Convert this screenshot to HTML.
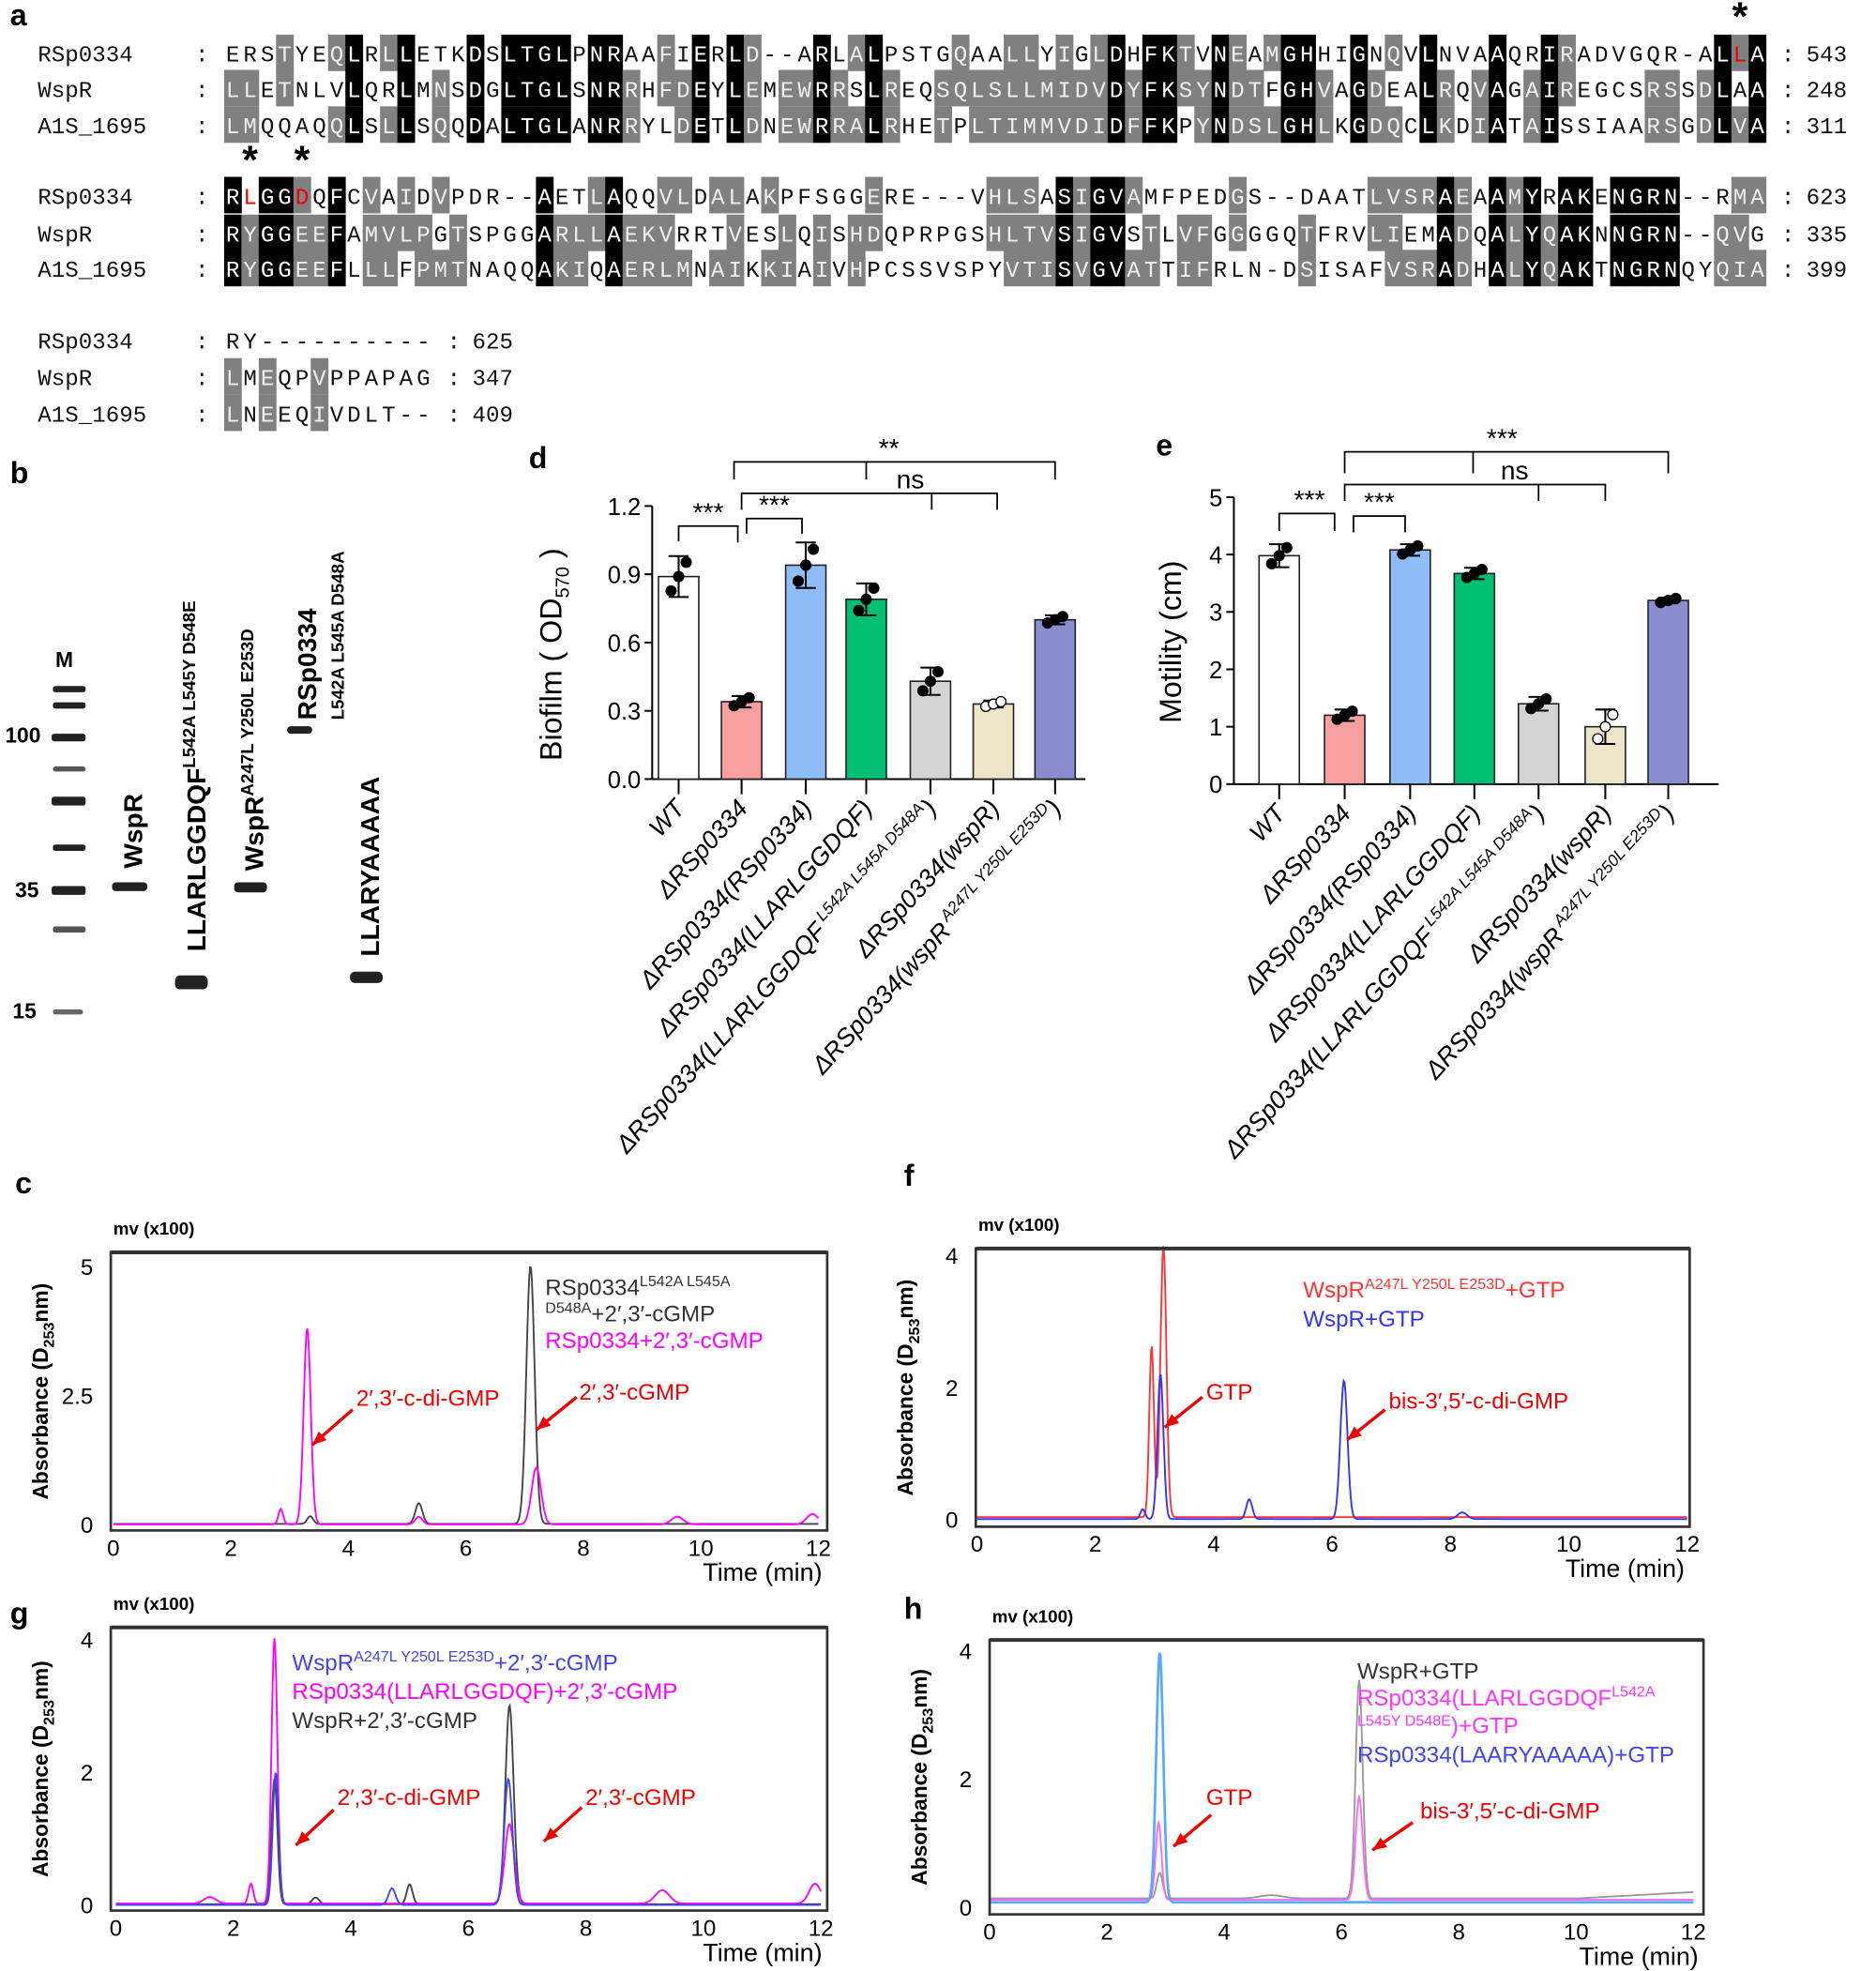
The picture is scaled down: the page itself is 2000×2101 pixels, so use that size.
<!DOCTYPE html>
<html><head><meta charset="utf-8">
<style>
html,body{margin:0;padding:0;background:#fff;}
svg{display:block;}
.lbl{font-family:"Liberation Sans",sans-serif;font-weight:bold;font-size:24px;}
.mono{font-family:"Liberation Mono",monospace;font-size:18px;}
.sans{font-family:"Liberation Sans",sans-serif;}
</style></head><body>
<svg id="s" xmlns="http://www.w3.org/2000/svg" width="2000" height="2101" viewBox="0 0 1490 1566" preserveAspectRatio="none">
<rect width="1490" height="1566" fill="#fff"/>
<g id="aln"></g>
<text class="lbl" x="8" y="20">a</text>
<text class="lbl" x="8" y="384">b</text>
<text class="lbl" x="420" y="372">d</text>
<text class="lbl" x="918" y="362">e</text>
<text class="lbl" x="12" y="948">c</text>
<text class="lbl" x="718" y="942">f</text>
<text class="lbl" x="8" y="1290">g</text>
<text class="lbl" x="718" y="1286">h</text>

<g id="gel">
<text class="sans" x="44" y="530" font-size="17" font-weight="bold">M</text>
<text class="sans" x="4" y="590" font-size="17" font-weight="bold">100</text>
<text class="sans" x="12" y="713" font-size="17" font-weight="bold">35</text>
<text class="sans" x="10" y="809" font-size="17" font-weight="bold">15</text>
<g fill="#222">
<rect x="42" y="545" width="26" height="5" rx="2"/>
<rect x="42" y="558" width="26" height="5" rx="2"/>
<rect x="41" y="583" width="27" height="6" rx="2"/>
<rect x="42" y="609" width="26" height="4" rx="2" fill="#555"/>
<rect x="41" y="633" width="27" height="7" rx="2"/>
<rect x="42" y="671" width="26" height="5" rx="2"/>
<rect x="41" y="704" width="27" height="7" rx="2"/>
<rect x="42" y="736" width="26" height="5" rx="2" fill="#555"/>
<rect x="42" y="802" width="24" height="4" rx="2" fill="#666"/>
<rect x="89" y="701" width="28" height="7" rx="3"/>
<rect x="139" y="775" width="26" height="11" rx="4"/>
<rect x="186" y="701" width="26" height="8" rx="3"/>
<rect x="228" y="577" width="20" height="6" rx="3"/>
<rect x="278" y="772" width="26" height="9" rx="4"/>
</g>
<g class="sans" font-weight="bold" font-size="21">
<text transform="translate(113,690) rotate(-90)">WspR</text>
<text transform="translate(163,756) rotate(-90)">LLARLGGDQF<tspan font-size="14" dy="-8">L542A L545Y D548E</tspan></text>
<text transform="translate(209,692) rotate(-90)">WspR<tspan font-size="14" dy="-8">A247L Y250L E253D</tspan></text>
<text transform="translate(251,572) rotate(-90)">RSp0334</text>
<text transform="translate(273,572) rotate(-90)" font-size="14">L542A L545A D548A</text>
<text transform="translate(301,760) rotate(-90)">LLARYAAAAA</text>
</g>
</g>

<g id="bars"></g>
<g id="chrom"></g>
</svg>
<script>
const NS="http://www.w3.org/2000/svg";
function el(p,tag,attrs,txt){const e=document.createElementNS(NS,tag);for(const k in attrs)e.setAttribute(k,attrs[k]);if(txt!==undefined)e.textContent=txt;p.appendChild(e);return e;}
const aln=document.getElementById('aln');
const names=['RSp0334','WspR','A1S_1695'];
const blocks=[
 {y:[42,70,99],s:["ERSTYEQLRLLETKDSLTGLPNRAAFIERLD--ARLALPSTGQAALLYIGLDHFKTVNEAMGHHIGNQVLNVAAQRIRADVGQR-ALLA","LLETNLVLQRLMNSDGLTGLSNRRHFDEYLEMEWRRSLREQSQLSLLMIDVDYFKSYNDTFGHVAGDEALRQVAGAIREGCSRSSDLAA","LMQQAQQLSLLSQQDALTGLANRRYLDETLDNEWRRALRHETPLTIMMVDIDFFKPYNDSLGHLKGDQCLKDIATAISSIAARSGDLVA"],n:['543','248','311'],red:[[0,87]]},
 {y:[155,185,213],s:["RLGGDQFCVAIDVPDR--AETLAQQVLDALAKPFSGGERE---VHLSASIGVAMFPEDGS--DAATLVSRAEAAMYRAKENGRN--RMA","RYGGEEFAMVLPGTSPGGARLLAEKVRRTVESLQISHDQPRPGSHLTVSIGVSTLVFGGGGQTFRVLIEMADQALYQAKNNGRN--QVG","RYGGEEFLLLFPMTNAQQAKIQAERLMNAIKKIAIVHPCSSVSPYVTISVGVATTIFRLN-DSISAFVSRADHALYQAKTNGRNQYQIA"],n:['623','335','399'],red:[[0,1],[0,4]]},
 {y:[270,299,328],s:["RY----------","LMEQPVPPAPAG","LNEEQIVDLT--"],n:['625','347','409'],red:[]}
];
const X0=178,CW=13.76;
const grps=["ILVM","FYW","KR","DE","ST","NQ"];
const sim=(a,b)=>a!=='-'&&b!=='-'&&(a===b||grps.some(g=>g.includes(a)&&g.includes(b)));
blocks.forEach((b,bi)=>{
 const L=b.s[0].length;
 for(let c=0;c<L;c++){
  const ch=[b.s[0][c],b.s[1][c],b.s[2][c]];
  const sh=[0,0,0];
  if(ch[0]!=='-'&&ch[0]===ch[1]&&ch[1]===ch[2]) sh.fill(2);
  else{
   for(let i=0;i<3;i++)for(let j=i+1;j<3;j++)if(sim(ch[i],ch[j])){sh[i]=1;sh[j]=1;}
  }
  for(let r=0;r<3;r++){
   const x=X0+c*CW, y=b.y[r];
   if(sh[r]) el(aln,'rect',{x:x,y:y-14.5,width:CW+0.3,height:29,fill:sh[r]==2?'#000':'#808080'});
   let col=sh[r]==2?'#fff':(sh[r]==1?'#eee':'#111');
   if(b.red.some(p=>p[0]==r&&p[1]==c)) col='#e00';
   el(aln,'text',{x:x+CW/2,y:y+7,'text-anchor':'middle','class':'mono','font-size':'21',fill:col},ch[r]);
  }
 }
 for(let r=0;r<3;r++){
  el(aln,'text',{x:30,y:b.y[r]+7,'class':'mono','font-size':'20',fill:'#111'},names[r]);
  el(aln,'text',{x:155,y:b.y[r]+7,'class':'mono','font-size':'20',fill:'#111'},':');
  const ex=X0+L*CW;
  el(aln,'text',{x:ex+12,y:b.y[r]+7,'class':'mono','font-size':'20',fill:'#111'},':');
  el(aln,'text',{x:ex+32,y:b.y[r]+7,'class':'mono','font-size':'20',fill:'#111'},b.n[r]);
 }
});
[[X0+87.5*CW,24],[X0+1.5*CW,138],[X0+4.5*CW,138]].forEach(p=>el(aln,'text',{x:p[0],y:p[1],'text-anchor':'middle','class':'sans','font-size':'32','font-weight':'bold'},'*'));

const bars=document.getElementById('bars');
const colors=['#fff','#f8a0a0','#8fbdf8','#00bf72','#d4d4d4','#ece5c8','#8a8ed0'];
const labsD=[['WT'],['ΔRSp0334'],['ΔRSp0334(RSp0334)'],['ΔRSp0334(LLARLGGDQF)'],['ΔRSp0334(LLARLGGDQF','L542A L545A D548A',')'],['ΔRSp0334(wspR)'],['ΔRSp0334(wspR','A247L Y250L E253D',')']];
function barChart(o){
 const g=el(bars,'g',{});
 const yv=v=>o.y0-(v)*o.ppu;
 el(g,'line',{x1:o.ax,y1:o.y0,x2:o.ax,y2:yv(o.ymax),stroke:'#000','stroke-width':1.5});
 el(g,'line',{x1:o.ax,y1:o.y0,x2:o.axEnd,y2:o.y0,stroke:'#000','stroke-width':1.5});
 o.ticks.forEach(t=>{el(g,'line',{x1:o.ax-6,x2:o.ax,y1:yv(t[0]),y2:yv(t[0]),stroke:'#000','stroke-width':1.5});
  el(g,'text',{x:o.ax-9,y:yv(t[0])+7,'text-anchor':'end','class':'sans','font-size':'19'},t[1]);});
 o.vals.forEach((v,i)=>{
  const cx=o.cx[i];
  el(g,'rect',{x:cx-16,y:yv(v),width:32,height:v*o.ppu,fill:colors[i],stroke:'#222','stroke-width':1.2});
  el(g,'line',{x1:cx,x2:cx,y1:o.y0,y2:o.y0+12,stroke:'#000','stroke-width':1.5});
  const e=o.err[i];
  el(g,'line',{x1:cx,x2:cx,y1:yv(v+e),y2:yv(v-e),stroke:'#000','stroke-width':1.5});
  el(g,'line',{x1:cx-8,x2:cx+8,y1:yv(v+e),y2:yv(v+e),stroke:'#000','stroke-width':1.5});
  el(g,'line',{x1:cx-8,x2:cx+8,y1:yv(v-e),y2:yv(v-e),stroke:'#000','stroke-width':1.5});
  [-6,0,6].forEach((dx,k)=>el(g,'circle',{cx:cx+dx,cy:yv(v+(k-1)*e*0.7),r:4,fill:i==5?'#fff':'#000',stroke:'#000'}));
  const t=el(g,'text',{transform:`translate(${cx+6},${o.y0+24}) rotate(-48)`,'text-anchor':'end','class':'sans','font-size':'20','font-style':'italic'});
  const L=labsD[i];
  el(t,'tspan',{},L[0]);
  if(L.length>1){el(t,'tspan',{'font-size':'13',dy:'-8'},' '+L[1]);el(t,'tspan',{dy:'8'},L[2]);}
 });
 el(g,'text',{transform:`translate(${o.ylx},${o.yly}) rotate(-90)`,'text-anchor':'middle','class':'sans','font-size':'24'}).innerHTML=o.ylab;
 o.br.forEach(b=>{
  const p=`M${b[0]},${b[3]} V${b[2]} H${b[1]} V${b[4]}`;
  el(g,'path',{d:p,fill:'none',stroke:'#000','stroke-width':1.3});
  (b[6]||[]).forEach(m=>el(g,'line',{x1:m[0],x2:m[0],y1:b[2],y2:m[1],stroke:'#000','stroke-width':1.3}));
  el(g,'text',{x:(b[7]||(b[0]+b[1])/2),y:b[2]-4,'text-anchor':'middle','class':'sans','font-size':'21'},b[5]);
 });
}
barChart({ax:518,axEnd:862,y0:619,ppu:180.8,ymax:1.2,ticks:[[0,'0.0'],[0.3,'0.3'],[0.6,'0.6'],[0.9,'0.9'],[1.2,'1.2']],
 cx:[539,589,640,688,739,789,838],vals:[.89,.34,.94,.79,.43,.33,.70],err:[.09,.025,.1,.07,.06,.015,.02],
 ylx:446,yly:520,ylab:'Biofilm ( OD<tspan font-size="15" dy="6">570</tspan><tspan dy="-6"> )</tspan>',
 br:[[539,586,418,430,431,'***'],[593,637,412,424,424,'***'],[589,792,392,405,405,'ns',[[740,405],[688,392]],723],[583,838,367,381,381,'**',[[688,381]],706]]});
barChart({ax:980,axEnd:1365,y0:623,ppu:45.6,ymax:5,ticks:[[0,'0'],[1,'1'],[2,'2'],[3,'3'],[4,'4'],[5,'5']],
 cx:[1016,1068,1120,1171,1222,1275,1325],vals:[3.98,1.2,4.08,3.67,1.4,1.0,3.2],err:[.2,.1,.1,.1,.12,.3,.05],
 ylx:938,yly:510,ylab:'Motility (cm)',
 br:[[1016,1060,408,422,422,'***',null,1040],[1075,1116,410,423,423,'***'],[1068,1275,385,398,398,'ns',[[1222,398],[1170,385]],1203],[1068,1325,359,376,376,'***',[[1170,376]],1193]]});

const ch=document.getElementById('chrom');
function chrom(o){
 const g=el(ch,'g',{});
 const tx=t=>o.t0+(o.t12-o.t0)*t/12, vy=v=>o.y0-v*o.ppu;
 el(g,'text',{x:o.fx0+2,y:o.fy0-14,'class':'sans','font-size':'14','font-weight':'bold'},'mv (x100)');
 o.series.forEach(s=>{
  let d='';
  for(let i=0;i<=800;i++){const t=12*i/800;let v=(typeof s.base==='function')?s.base(t):s.base;
   s.peaks.forEach(p=>{v+=p[1]*Math.exp(-((t-p[0])**2)/(2*(p[2]||0.06)**2));});
   d+=(i?'L':'M')+tx(t).toFixed(1)+','+vy(v).toFixed(1);}
  el(g,'path',{d:d,fill:'none',stroke:s.c,'stroke-width':s.w||1.4});
 });
 el(g,'rect',{x:o.fx0,y:o.fy0,width:o.fx1-o.fx0,height:o.fy1-o.fy0,fill:'none',stroke:'#333','stroke-width':2});
 el(g,'line',{x1:o.fx0,x2:o.fx1,y1:o.fy0,y2:o.fy0,stroke:'#333','stroke-width':3});
 o.yt.forEach(t=>el(g,'text',{x:o.fx0-14,y:vy(t[0])+6,'text-anchor':'end','class':'sans','font-size':'18'},t[1]));
 for(let t=0;t<=12;t+=2)el(g,'text',{x:tx(t),y:o.fy1+20,'text-anchor':'middle','class':'sans','font-size':'18'},t);
 el(g,'text',{x:o.fx1-4,y:o.fy1+40,'text-anchor':'end','class':'sans','font-size':'20'},'Time (min)');
 el(g,'text',{transform:`translate(${o.fx0-50},${(o.fy0+o.fy1)/2}) rotate(-90)`,'text-anchor':'middle','class':'sans','font-size':'17','font-weight':'bold'}).innerHTML='Absorbance (D<tspan font-size="12" dy="5">253</tspan><tspan dy="-5">nm)</tspan>';
 o.txt.forEach(t=>{el(g,'text',{x:t[0],y:t[1],'class':'sans','font-size':'18',fill:t[2]}).innerHTML=t[3];});
 o.arr.forEach(a=>{el(g,'line',{x1:a[0],y1:a[1],x2:a[2],y2:a[3],stroke:'#e00','stroke-width':2.5});
  const ang=Math.atan2(a[3]-a[1],a[2]-a[0]),L=12;
  const p1=[a[2]-L*Math.cos(ang-0.4),a[3]-L*Math.sin(ang-0.4)],p2=[a[2]-L*Math.cos(ang+0.4),a[3]-L*Math.sin(ang+0.4)];
  el(g,'polygon',{points:`${a[2]},${a[3]} ${p1} ${p2}`,fill:'#e00'});});
}
const sup=s=>`<tspan font-size="12" dy="-7">${s}</tspan><tspan dy="7">`;
chrom({fx0:88,fx1:657,fy0:995,fy1:1216,t0:90,t12:650,y0:1212,ppu:41,yt:[[0,'0'],[2.5,'2.5'],[5,'5']],
 series:[{c:'#444',base:0.03,peaks:[[7.1,5,0.07],[5.2,0.4,0.06],[3.35,0.15,0.05]]},
 {c:'#f0f',base:0.02,peaks:[[3.3,3.8,0.06],[2.85,0.3,0.04],[7.2,1.1,0.08],[5.2,0.15],[9.6,0.15,0.1],[11.9,0.2,0.1]]}],
 txt:[[433,1029,'#333','RSp0334'+sup('L542A L545A')+'</tspan>'],[433,1050,'#333',sup('D548A')+'+2′,3′-cGMP</tspan>'],[433,1071,'#f0f','RSp0334+2′,3′-cGMP'],[283,1117,'#e00','2′,3′-c-di-GMP'],[460,1112,'#e00','2′,3′-cGMP']],
 arr:[[280,1120,248,1148],[458,1110,426,1136]]});
chrom({fx0:775,fx1:1342,fy0:992,fy1:1213,t0:776,t12:1340,y0:1208,ppu:52.5,yt:[[0,'0'],[2,'2'],[4,'4']],
 series:[{c:'#f33',base:0.05,peaks:[[3.15,4.1,0.05],[2.95,2.6,0.04]]},
 {c:'#33f',base:0.02,peaks:[[3.1,2.2,0.05],[6.2,2.1,0.06],[4.6,0.3,0.05],[2.8,0.15,0.04],[8.2,0.1,0.08]]}],
 txt:[[1035,1031,'#f33','WspR'+sup('A247L Y250L E253D')+'+GTP</tspan>'],[1035,1054,'#33f','WspR+GTP'],[958,1112,'#e00','GTP'],[1103,1119,'#e00','bis-3′,5′-c-di-GMP']],
 arr:[[955,1110,925,1134],[1100,1120,1070,1144]]});
chrom({fx0:88,fx1:657,fy0:1293,fy1:1518,t0:92,t12:652,y0:1514,ppu:52.7,yt:[[0,'0'],[2,'2'],[4,'4']],
 series:[{c:'#444',base:0.02,peaks:[[2.7,1.9,0.05],[6.7,3.0,0.07],[5.0,0.3,0.05],[3.4,0.1]]},
 {c:'#f0f',base:0.03,peaks:[[2.7,4.0,0.05],[2.3,0.3,0.04],[6.7,1.2,0.08],[9.3,0.2,0.12],[11.9,0.3,0.1],[1.6,0.1,0.1]]},
 {c:'#44e',base:0.01,peaks:[[2.72,2.0,0.05],[6.68,1.9,0.07],[4.7,0.25,0.06]]}],
 txt:[[232,1327,'#44e','WspR'+sup('A247L Y250L E253D')+'+2′,3′-cGMP</tspan>'],[232,1350,'#f0f','RSp0334(LLARLGGDQF)+2′,3′-cGMP'],[232,1373,'#333','WspR+2′,3′-cGMP'],[268,1434,'#e00','2′,3′-c-di-GMP'],[465,1434,'#e00','2′,3′-cGMP']],
 arr:[[265,1438,235,1466],[462,1436,432,1463]]});
chrom({fx0:786,fx1:1353,fy0:1303,fy1:1521,t0:786,t12:1345,y0:1516,ppu:51,yt:[[0,'0'],[2,'2'],[4,'4']],
 series:[{c:'#999',base:t=>0.15+(t>10?0.1*(t-10)/2:0),peaks:[[2.9,0.4,0.05],[6.3,3.4,0.06],[4.8,0.05,0.2]]},
 {c:'#f6f',base:0.13,peaks:[[2.88,1.2,0.05],[6.3,1.6,0.06]]},
 {c:'#5af',base:0.09,w:2,peaks:[[2.9,3.9,0.06]]}],
 txt:[[1078,1334,'#333','WspR+GTP'],[1078,1355,'#f3f','RSp0334(LLARLGGDQF'+sup('L542A')+'</tspan>'],[1078,1377,'#f3f','<tspan font-size="12" dy="-6">L545Y D548E</tspan><tspan dy="6">)+GTP</tspan>'],[1078,1400,'#44e','RSp0334(LAARYAAAAA)+GTP'],[958,1434,'#e00','GTP'],[1128,1445,'#e00','bis-3′,5′-c-di-GMP']],
 arr:[[962,1442,932,1467],[1122,1448,1090,1470]]});
</script>
</body></html>
